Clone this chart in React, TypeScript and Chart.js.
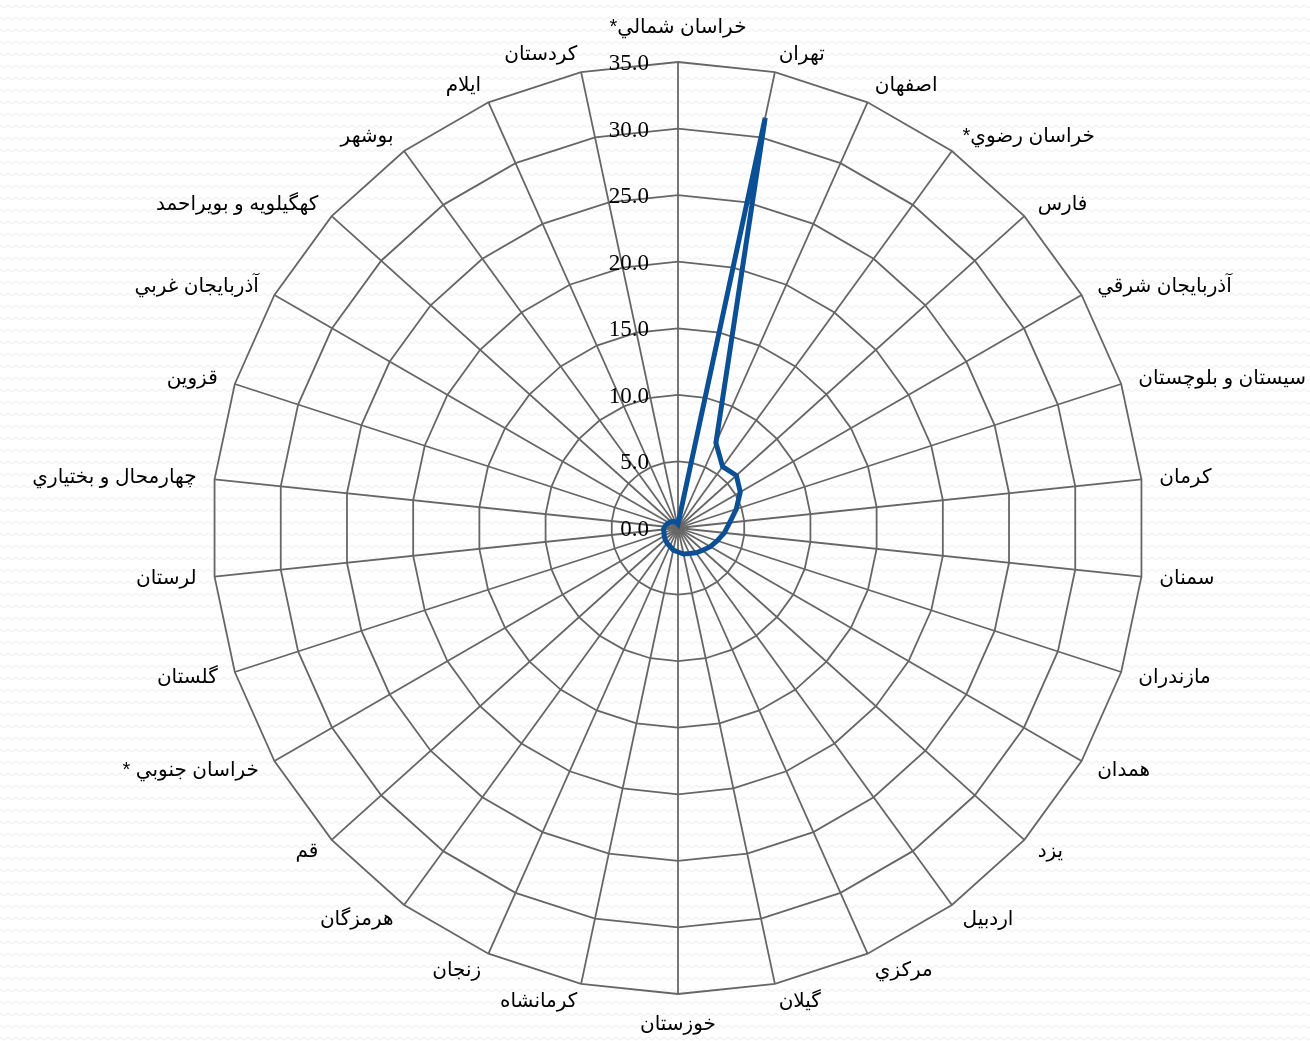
import React, { useEffect, useRef } from "react";
import { Chart, registerables } from "chart.js";

Chart.register(...registerables);

const provinces: string[] = [
  "خراسان شمالي*",
  "تهران",
  "اصفهان",
  "خراسان رضوي*",
  "فارس",
  "آذربايجان شرقي",
  "سيستان و بلوچستان",
  "كرمان",
  "سمنان",
  "مازندران",
  "همدان",
  "يزد",
  "اردبيل",
  "مركزي",
  "گيلان",
  "خوزستان",
  "كرمانشاه",
  "زنجان",
  "هرمزگان",
  "قم",
  "خراسان جنوبي *",
  "گلستان",
  "لرستان",
  "چهارمحال و بختياري",
  "قزوين",
  "آذربايجان غربي",
  "كهگيلويه و بويراحمد",
  "بوشهر",
  "ايلام",
  "كردستان",
];

const shares: number[] = [
  0.3, 31.5, 7.0, 5.7, 5.9, 5.4, 4.6, 3.9, 3.5, 3.1, 2.8, 2.5, 2.3, 2.1, 2.0,
  1.8, 1.7, 1.5, 1.4, 1.3, 1.2, 1.1, 1.1, 1.0, 0.9, 0.8, 0.7, 0.6, 0.5, 0.4,
];

const scaleMin = 0;
const scaleMax = 35;
const scaleStep = 5;

const W = 1310;
const H = 1041;

const excelPlugin = {
  id: "excelLook",
  beforeDraw(chart: any) {
    const ctx: CanvasRenderingContext2D = chart.ctx;
    const tile = document.createElement("canvas");
    tile.width = 8;
    tile.height = 12;
    const t = tile.getContext("2d")!;
    t.fillStyle = "#ffffff";
    t.fillRect(0, 0, 8, 12);
    t.strokeStyle = "#f2f2f2";
    t.lineWidth = 1.2;
    t.beginPath();
    t.moveTo(-4, 8);
    t.lineTo(0, 5);
    t.lineTo(4, 8);
    t.lineTo(8, 5);
    t.lineTo(12, 8);
    t.stroke();
    const pat = ctx.createPattern(tile, "repeat");
    ctx.save();
    if (pat) ctx.fillStyle = pat;
    ctx.fillRect(0, 0, chart.width, chart.height);
    ctx.restore();
  },
  afterDraw(chart: any) {
    const scale = chart.scales.r;
    const ctx: CanvasRenderingContext2D = chart.ctx;
    const labels: string[] = chart.data.labels;
    const n = labels.length;
    ctx.save();
    ctx.fillStyle = "#000000";
    ctx.font = '20px Arial, "Liberation Sans", "DejaVu Sans", sans-serif';
    (ctx as any).direction = "rtl";
    labels.forEach((lab, i) => {
      const p = scale.getPointPosition(i, scale.drawingArea + 18);
      const ang = (360 / n) * i;
      let y = p.y;
      let align: CanvasTextAlign = "center";
      if (Math.abs(ang) < 0.01) {
        y = p.y - 17;
      } else if (Math.abs(ang - 180) < 0.01) {
        y = p.y + 12;
      } else if (ang < 180) {
        align = "left";
      } else {
        align = "right";
      }
      ctx.textAlign = align;
      ctx.textBaseline = "middle";
      ctx.fillText(lab, p.x, y);
    });
    (ctx as any).direction = "ltr";
    ctx.font = '23px "Liberation Serif", "Times New Roman", serif';
    ctx.textAlign = "right";
    ctx.textBaseline = "middle";
    scale.ticks.forEach((tk: any) => {
      const r = scale.getDistanceFromCenterForValue(tk.value);
      ctx.fillText(Number(tk.value).toFixed(1), scale.xCenter - 29, scale.yCenter - r + 2);
    });
    ctx.restore();
  },
};

export default function App() {
  const ref = useRef<HTMLCanvasElement | null>(null);
  useEffect(() => {
    if (!ref.current) return;
    const chart = new Chart(ref.current, {
      type: "radar",
      data: {
        labels: provinces,
        datasets: [
          {
            label: "share",
            data: shares,
            borderColor: "#0b4f95",
            borderWidth: 5,
            pointRadius: 0,
            pointHoverRadius: 0,
            fill: false,
            tension: 0,
          },
        ],
      },
      options: {
        responsive: false,
        animation: false,
        devicePixelRatio: 1,
        events: [],
        layout: { padding: { left: 212, right: 166, top: 62, bottom: 47 } },
        plugins: {
          legend: { display: false },
          tooltip: { enabled: false },
        },
        scales: {
          r: {
            min: scaleMin,
            max: scaleMax,
            ticks: { stepSize: scaleStep, display: false },
            grid: { color: "#666666", lineWidth: 1.8 },
            angleLines: { color: "#666666", lineWidth: 1.8 },
            pointLabels: { display: false },
          },
        },
      },
      plugins: [excelPlugin],
    });
    return () => chart.destroy();
  }, []);
  return (
    <div style={{ position: "absolute", left: 0, top: 0, width: W, height: H }}>
      <canvas ref={ref} width={W} height={H} style={{ width: W, height: H, display: "block" }} />
    </div>
  );
}
